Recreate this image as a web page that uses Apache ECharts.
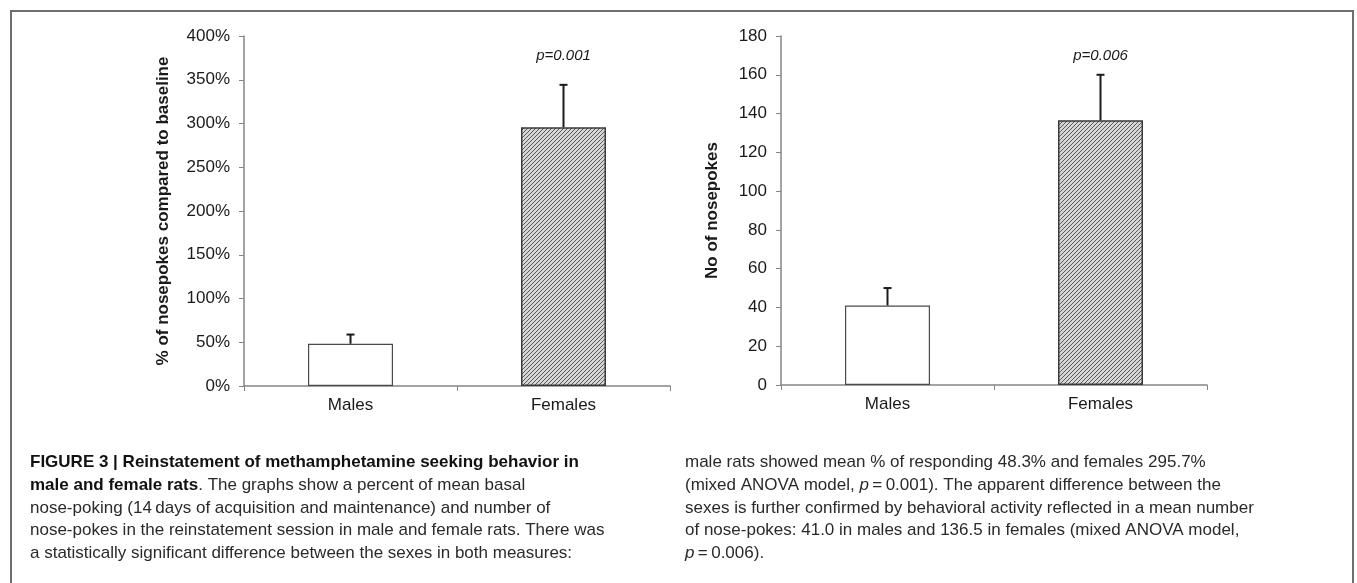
<!DOCTYPE html>
<html><head><meta charset="utf-8">
<script src="https://cdn.jsdelivr.net/npm/echarts@6/dist/echarts.min.js"></script>
<style>html,body{margin:0;padding:0;background:#fff;}#c{width:1357px;height:583px;}</style>
</head><body><div id="c"></div>
<script>
// ---- data ----
const categories = ['Males', 'Females'];
const pctMeans = [48.3, 295.7];
const pctErr = [10.5, 48.5];
const countMeans = [41.0, 136.5];
const countErr = [9.0, 23.5];
const pctLabels = ['', 'p=0.001'];
const countLabels = ['', 'p=0.006'];
const pctAxisName = '% of nosepokes compared to baseline';
const countAxisName = 'No of nosepokes';
const captionLeft = [
  '{b|FIGURE 3 | Reinstatement of methamphetamine seeking behavior in}',
  '{b|male and female rats}{n|. The graphs show a percent of mean basal}',
  '{n|nose-poking (14\u2009days of acquisition and maintenance) and number of}',
  '{n|nose-pokes in the reinstatement session in male and female rats. There was}',
  '{n|a statistically significant difference between the sexes in both measures:}'
];
const captionRight = [
  '{n|male rats showed mean % of responding 48.3% and females 295.7%}',
  '{n|(mixed ANOVA model, }{i|p}{n|\u2009=\u20090.001). The apparent difference between the}',
  '{n|sexes is further confirmed by behavioral activity reflected in a mean number}',
  '{n|of nose-pokes: 41.0 in males and 136.5 in females (mixed ANOVA model,}',
  '{i|p}{n|\u2009=\u20090.006).}'
];

// ---- styles ----
const FONT = '"Liberation Sans", Arial, sans-serif';
const AX = '#858585';
const INK = '#1a1a1a';

function hatch() {
  const c = document.createElement('canvas');
  c.width = 4; c.height = 4;
  const g = c.getContext('2d');
  g.fillStyle = '#d6d6d6'; g.fillRect(0, 0, 4, 4);
  g.strokeStyle = '#5a5a5a'; g.lineWidth = 1;
  g.beginPath();
  g.moveTo(0, 4); g.lineTo(4, 0);
  g.moveTo(-1, 1); g.lineTo(1, -1);
  g.moveTo(3, 5); g.lineTo(5, 3);
  g.stroke();
  return c;
}
const hatchImg = hatch();

function xAxis(gi) {
  return {
    type: 'category', gridIndex: gi, data: categories,
    axisLine: { lineStyle: { color: AX, width: 1.5 } },
    axisTick: { show: true, length: 5, lineStyle: { color: AX } },
    axisLabel: { color: INK, fontSize: 17, fontFamily: FONT, margin: 11 },
    splitLine: { show: false }
  };
}
function yAxis(gi, max, interval, fmt, name, gap) {
  return {
    type: 'value', gridIndex: gi, min: 0, max: max, interval: interval,
    name: name, nameLocation: 'middle', nameGap: gap, nameRotate: 90,
    nameTextStyle: { color: INK, fontSize: 17, fontWeight: 'bold', fontFamily: FONT },
    axisLine: { show: true, lineStyle: { color: AX, width: 1.5 } },
    axisTick: { show: true, length: 5, lineStyle: { color: AX } },
    axisLabel: { color: INK, fontSize: 17, fontFamily: FONT, margin: 14, formatter: fmt },
    splitLine: { show: false }
  };
}
function barSeries(gi, vals) {
  return {
    type: 'bar', xAxisIndex: gi, yAxisIndex: gi, barWidth: 85,
    data: vals.map((v, i) => ({
      value: v,
      itemStyle: i === 0
        ? { color: '#ffffff', borderColor: '#4a4a4a', borderWidth: 1.2 }
        : { color: { image: hatchImg, repeat: 'repeat' }, borderColor: '#3a3a3a', borderWidth: 1.5 }
    })),
    silent: true, z: 2
  };
}
function errSeries(gi, means, errs, labels, labelY) {
  return {
    type: 'custom', xAxisIndex: gi, yAxisIndex: gi, silent: true, z: 5,
    data: means.map((m, i) => [i, m, errs[i]]),
    renderItem(params, api) {
      const i = api.value(0), m = api.value(1), e = api.value(2);
      const p0 = api.coord([i, m]), p1 = api.coord([i, m + e]);
      const ch = [
        { type: 'line', shape: { x1: p0[0], y1: p0[1], x2: p1[0], y2: p1[1] }, style: { stroke: INK, lineWidth: 2 } },
        { type: 'line', shape: { x1: p1[0] - 4, y1: p1[1], x2: p1[0] + 4, y2: p1[1] }, style: { stroke: INK, lineWidth: 2 } }
      ];
      const lbl = labels[params.dataIndex];
      if (lbl) {
        const pl = api.coord([i, labelY]);
        ch.push({ type: 'text', style: { text: lbl, x: pl[0], y: pl[1], align: 'center', verticalAlign: 'middle',
          font: 'italic 15px ' + FONT, fill: INK } });
      }
      return { type: 'group', children: ch };
    }
  };
}

const CAP = 17;
const rich = {
  b: { fontFamily: FONT, fontWeight: 'bold', fontSize: CAP, fill: '#111', lineHeight: 22 },
  n: { fontFamily: FONT, fontSize: CAP, fill: '#2a2a2a', lineHeight: 22 },
  i: { fontFamily: FONT, fontStyle: 'italic', fontSize: CAP, fill: '#2a2a2a', lineHeight: 22 }
};
const ROW0 = 462.5, LINE_H = 22.7;
const captionEls = [];
function addCol(lines, x) {
  lines.forEach((t, k) => captionEls.push({
    type: 'text', x: x, y: ROW0 + k * LINE_H, silent: true,
    style: { text: t, rich: rich, align: 'left', verticalAlign: 'middle' }
  }));
}
addCol(captionLeft, 30);
addCol(captionRight, 685);

const chart = echarts.init(document.getElementById('c'), null, { renderer: 'canvas' });
chart.setOption({
  backgroundColor: '#ffffff',
  animation: false,
  grid: [
    { left: 244, top: 36, width: 426, height: 350 },
    { left: 781, top: 36, width: 426, height: 349 }
  ],
  xAxis: [xAxis(0), xAxis(1)],
  yAxis: [
    yAxis(0, 400, 50, '{value}%', pctAxisName, 72),
    yAxis(1, 180, 20, '{value}', countAxisName, 60)
  ],
  series: [
    barSeries(0, pctMeans), barSeries(1, countMeans),
    errSeries(0, pctMeans, pctErr, pctLabels, 377),
    errSeries(1, countMeans, countErr, countLabels, 169.7)
  ],
  graphic: [
    { type: 'polyline', shape: { points: [[11, 600], [11, 11], [1353, 11], [1353, 600]] },
      style: { stroke: '#6e6e6e', lineWidth: 2, fill: null }, silent: true }
  ].concat(captionEls)
});
</script></body></html>
